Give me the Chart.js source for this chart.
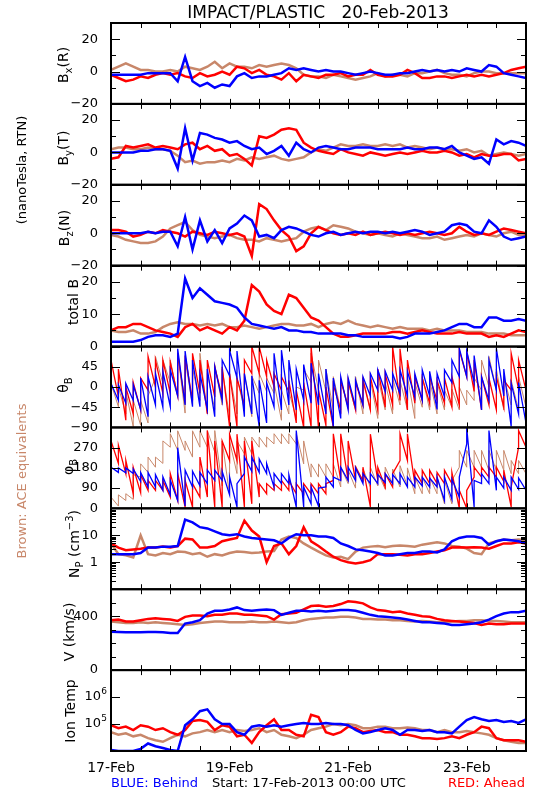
<!DOCTYPE html>
<html>
<head>
<meta charset="utf-8">
<title>IMPACT/PLASTIC 20-Feb-2013</title>
<script src="https://cdn.jsdelivr.net/npm/chart.js@4.4.1/dist/chart.umd.min.js"></script>
<style>
  body { margin: 0; background: #fff; font-family: "DejaVu Sans", sans-serif; }
  #wrap { position: relative; width: 550px; height: 800px; }
  #chart { position: absolute; left: 0; top: 0; }
  .t { position: absolute; white-space: pre; color: #000; font-size: 14px; line-height: 1; }
  .r { transform: translate(-50%, -50%) rotate(-90deg); }
  .r sub, .r sup { font-size: 10px; }
</style>
</head>
<body>
<div id="wrap">
  <canvas id="chart" width="550" height="800"></canvas>

  <div class="t" style="left:318px;top:12px;transform:translate(-50%,-50%);font-size:17px;">IMPACT/PLASTIC   20-Feb-2013</div>

  <div class="t r" style="left:65px;top:65px;">B<sub>x</sub>(R)</div>
  <div class="t r" style="left:65px;top:148px;">B<sub>y</sub>(T)</div>
  <div class="t r" style="left:66px;top:228px;">B<sub>z</sub>(N)</div>
  <div class="t r" style="left:73px;top:302px;">total B</div>
  <div class="t r" style="left:65px;top:385px;">θ<sub>B</sub></div>
  <div class="t r" style="left:70px;top:467px;">φ<sub>B</sub></div>
  <div class="t r" style="left:75px;top:544px;">N<sub>P</sub> (cm<sup>−3</sup>)</div>
  <div class="t r" style="left:69px;top:632px;">V (km/s)</div>
  <div class="t r" style="left:70px;top:711px;">Ion Temp</div>

  <div class="t r" style="left:21px;top:170px;font-size:13px;">(nanoTesla, RTN)</div>
  <div class="t r" style="left:21px;top:481px;font-size:13px;color:#c8876a;">Brown: ACE equivalents</div>

  <div class="t" style="left:111px;top:776px;font-size:13px;color:#0000ff;">BLUE: Behind</div>
  <div class="t" style="left:212px;top:776px;font-size:13px;">Start: 17-Feb-2013 00:00 UTC</div>
  <div class="t" style="right:25px;top:776px;font-size:13px;color:#ff0000;">RED: Ahead</div>
</div>

<script>
// sample times, hours after 17-Feb-2013 00:00 UTC
const HOURS = [0,3,6,9,12,15,18,21,24,27,30,33,36,39,42,45,48,51,54,57,60,63,66,69,72,75,78,81,84,87,
  90,93,96,99,102,105,108,111,114,117,120,123,126,129,132,135,138,141,144,147,150,153,156,159,162,165,168];

// x axis ticks (every 12 h) and day labels
const X_TICKS = [0,12,24,36,48,60,72,84,96,108,120,132,144,156,168];
const DAY_TICKS = [0,48,96,144];
const DAY_LABELS = ['17-Feb','19-Feb','21-Feb','23-Feb'];

// Bx (R), nT
const BX_BLUE = [-2,-2,-2,-2,-2,-1,-1,-1,-1,-6,9,-6,-9,-7,-10,-8,-9,-3,-1,-4,-3,-3,-2,
  -1,2,1,2,1,0,1,0,0,-1,-2,-1,0,-1,-2,-2,-1,-1,0,1,0,1,0,1,0,2,1,0,4,3,-1,-2,-3,-4];
const BX_RED = [-2,-4,-6,-5,-3,-4,-2,-1,-2,-1,-3,-4,-1,-3,-2,0,-2,3,2,-1,1,-2,-3,
  -5,-1,-6,-2,-3,-4,-2,-2,-1,-3,-2,-2,1,-2,-3,-3,-2,1,-1,-4,-4,-3,-3,-4,-3,-2,-3,-2,-3,-2,-1,1,2,3];
const BX_ACE = [1,3,5,3,1,1,0,0,1,0,3,2,1,3,6,2,5,3,3,2,4,3,4,
  5,4,2,-2,-3,-3,-4,-2,-3,-4,-5,-4,-3,-1,-3,-2,-2,-3,-1,-1,0,1,-1,-2,-2,-3,-1,0,0,-1,-1,-1,-1,-1];

// By (T), nT
const BY_BLUE = [0,0,0,0,1,1,2,2,1,-10,15,-5,12,11,9,8,6,7,4,2,3,-1,1,
  4,-2,6,2,0,3,4,3,2,2,3,3,3,2,2,2,2,3,2,2,3,3,2,4,0,-2,-4,-3,-7,8,5,7,6,4];
const BY_RED = [-4,-3,4,3,4,5,3,4,3,2,5,6,2,4,1,2,-2,-1,-4,-8,10,9,11,
  14,15,14,6,3,1,0,-1,2,0,-1,-2,0,-1,-2,-1,0,-1,0,1,0,0,1,0,-2,-1,-3,-1,-2,-2,-1,-1,-5,-4];
const BY_ACE = [2,3,3,2,2,3,2,2,1,-2,-6,-5,-7,-6,-6,-5,-6,-4,-5,-3,-4,-3,-2,
  -4,-5,-4,-3,0,2,1,3,5,4,4,5,4,4,5,4,5,3,4,3,2,3,2,2,1,2,0,1,-2,-1,0,-1,-2,-1];

// Bz (N), nT
const BZ_BLUE = [0,0,0,0,0,1,0,1,1,-8,10,-10,8,-5,2,-6,3,6,11,8,-2,-1,-3,
  2,4,3,1,-1,-2,0,1,-1,0,1,0,1,1,0,1,0,1,2,1,-1,0,1,5,6,5,1,0,8,4,-2,-4,-3,-2];
const BZ_RED = [2,2,1,-2,-1,1,0,2,1,0,-2,1,0,-1,1,0,-1,0,-2,-14,18,15,8,
  2,-2,-11,-8,0,4,2,0,-1,0,-1,1,-1,0,1,0,-1,0,-1,0,1,0,-1,0,4,1,-1,0,-1,1,3,2,1,0];
const BZ_ACE = [-1,-2,-4,-5,-6,-6,-5,-2,3,5,7,2,-1,-2,-3,-2,-1,-3,-4,-4,-5,-3,-4,
  -5,-4,-3,1,3,4,2,5,4,3,1,0,-1,0,-1,-2,0,-1,-2,-3,-3,-2,-4,-3,-2,-1,-2,0,-1,-2,0,1,-1,-1];

// total B, nT
const BT_BLUE = [1.5,1.5,1.5,1.5,2,3,3.5,3.5,3,4,21,15,18,16,14,13.5,13,12,9,7,6.5,6,5.5,
  6,5,5,4.5,4.5,4,4,4,4,3.5,3.5,3,3,3,3,3,2.5,3,4,4,4,4.5,5,6,7,7,6,6,9,9,8,8,8.5,8];
const BT_RED = [5,6,6,7,7,6,5,4.5,4,3,6,7,5,6,5,4,6,5,8,19,17,13,11,
  10,16,15,12,9,8,6,4,3,3,3.5,4,4,4,4,4.5,4.5,4,4.5,5,4.5,4,4,4,4.5,4,4,4,3,3.5,3,4,5,4.5];
const BT_ACE = [5,4.5,4.5,5,4,4,4.5,6,7,7.5,7,7,6.5,7,6.5,7,6,6,6.5,6,5.5,6,6.5,
  7,7,6.5,6.5,7,6,7,7.5,7,8,7,6.5,6,6.5,6,5.5,6,5.5,5.5,5.5,5,5.5,5,5,5,4.5,4.5,4.5,4,4,4,3.5,3.5,3.5];

// theta_B, degrees: upper and lower edge of the scatter in each 3 h bin
const TH_BLUE_HI = [8,5,8,5,20,23,30,35,38,85,80,60,30,40,45,60,82,80,30,25,15,10,75,82,60,40,50,53,30,40,
  20,23,20,15,23,30,38,35,30,38,35,30,38,35,30,38,60,86,80,70,23,60,86,40,8,10,5];
const TH_BLUE_LO = [-20,-30,-36,-30,-50,-66,-40,-45,-44,-20,-40,-44,-44,-50,-66,-30,25,20,-66,-60,-88,-80,-44,-51,-40,-51,-30,-36,-40,-60,
  -88,-70,-51,-45,-40,-20,-7,-10,-7,-15,-20,-22,-30,-20,-50,-22,10,23,23,10,-51,-30,-7,-20,-88,-60,-80];
const TH_RED_HI = [60,40,0,10,20,68,60,60,55,75,70,75,60,60,45,45,30,20,60,90,90,60,30,23,15,-7,10,90,-7,0,
  5,15,15,10,15,23,40,30,90,85,60,23,20,23,15,20,23,82,80,60,23,20,23,15,75,60,40];
const TH_RED_LO = [-10,-22,-74,-60,-51,-7,0,-14,-14,-20,-37,-30,-14,-60,-22,-22,-88,-88,-40,30,30,23,0,-7,-10,-80,-90,-88,-90,-85,
  -90,-51,-45,-51,-40,-51,-51,-45,-40,-30,-51,-36,-30,-36,-30,-36,-44,-40,23,-10,-51,-40,-51,-45,-7,-5,-7];
const TH_ACE_HI = [8,0,-10,-29,-30,-20,68,60,60,75,60,40,75,30,50,40,30,20,30,25,30,20,10,-7,-10,0,40,75,60,40,
  23,15,10,23,20,15,23,10,20,15,23,10,23,15,10,-7,-5,0,-7,20,60,68,40,23,15,23,10];
const TH_ACE_LO = [-30,-44,-60,-88,-85,-80,20,8,10,-20,-58,-40,-30,-58,-50,-40,-66,-60,-50,-66,-14,-10,-14,-74,-60,-70,-7,10,-7,-10,
  -51,-51,-40,-51,-60,-51,-70,-51,-60,-40,-51,-70,-45,-51,-60,-51,-45,-51,-40,-30,-7,0,-7,-51,-40,-51,-45];

// phi_B, degrees: upper and lower edge of the scatter in each 3 h bin
const PH_BLUE_HI = [183,180,180,175,160,160,150,140,125,270,170,165,160,170,170,165,140,110,228,228,220,200,155,154,150,346,95,95,90,139,
  139,183,183,180,154,154,150,154,150,154,139,139,139,135,139,139,130,139,360,124,154,346,139,139,139,135,139];
const PH_BLUE_LO = [160,160,158,155,120,95,95,80,60,35,10,95,100,110,125,125,60,6,155,165,160,155,95,110,110,6,6,20,10,95,
  95,124,124,124,110,110,110,115,110,110,95,95,100,95,95,35,40,50,287,6,110,110,80,90,80,85,80];
const PH_RED_HI = [300,280,213,183,150,124,124,124,155,155,125,110,228,346,300,300,330,330,300,300,110,110,110,124,124,110,110,110,110,110,
  332,332,300,183,183,330,183,154,154,332,332,169,169,169,160,169,160,80,80,183,183,183,183,170,95,346,346];
const PH_RED_LO = [243,200,154,65,70,80,80,80,50,35,6,6,50,50,6,6,213,213,6,20,50,65,80,80,80,65,65,65,65,65,
  124,124,124,124,124,6,124,95,95,213,213,110,110,110,110,110,110,0,0,139,139,139,139,120,6,272,272];
const PH_ACE_HI = [50,60,65,150,198,228,228,300,332,345,300,345,345,346,346,300,300,300,317,317,317,317,332,332,332,332,300,198,198,198,
  198,183,170,190,175,183,160,183,175,190,180,139,139,139,139,124,124,258,258,258,258,258,258,258,213,213,213];
const PH_ACE_LO = [0,10,35,40,139,160,183,200,272,258,258,228,272,272,250,100,60,155,243,243,272,272,287,287,287,287,198,139,139,139,
  139,95,110,90,120,95,100,85,110,95,100,65,65,65,65,20,20,183,183,183,183,169,169,169,154,154,154];

// proton density, cm^-3
const NP_BLUE = [2,2,2,2,2.2,3.5,3.5,3.8,3.8,4,38,30,20,18,14,11,10,11,9,8,7.5,7,6.5,
  5,8,11,10,10,9,9,8,5,4,3,2.8,2.5,2.2,1.8,1.8,2,2.2,2.2,2.5,2.5,2.3,3,6,8,9,9,8,4.5,6,7,6.5,6,5];
const NP_RED = [5,3.5,2.8,3,3.2,3.5,3.5,3.8,3.5,4,7.5,7,3.5,3.5,4,6,7,8,35,15,9,1,4,
  5,2,4,20,6,4,2.5,1.6,1.2,1,0.9,1,1.2,2,2,2,1.9,1.8,2,2,2.2,2.5,2.8,3.5,3.6,3.5,3.6,3.5,3.2,4,5,5,5.5,5];
const NP_ACE = [5,2,1.8,1.5,10,2,1.8,2.2,2,2.5,2.4,2,2.2,1.6,2,1.8,2.2,2.5,2.4,2.2,2.3,2.5,2.6,
  7,9,8,5,3.5,2.5,1.8,1.5,1.6,1.3,2.5,3.5,3.8,4,3.6,4,4.2,4,3.8,4.5,5,5.5,5,4,3.8,3.2,2.2,2,5,6,7,6.5,7,6.5];

// bulk speed, km/s
const V_BLUE = [285,282,280,280,280,282,282,280,275,275,345,355,370,420,440,440,450,465,445,440,445,450,445,
  410,425,440,440,435,440,435,440,445,445,440,425,410,400,395,390,385,375,365,355,355,350,345,335,335,340,345,355,375,400,420,430,430,440];
const V_RED = [370,375,360,360,370,380,385,380,375,365,395,405,405,400,410,410,420,420,410,410,405,400,375,
  415,420,425,450,475,480,470,475,490,510,505,495,465,445,440,430,435,420,410,400,395,380,370,365,360,355,350,335,345,340,340,345,345,345];
const V_ACE = [360,355,350,350,355,350,355,350,345,340,335,340,350,355,360,360,355,355,355,360,355,355,360,
  355,350,355,370,380,385,390,390,395,395,390,380,380,375,375,370,370,365,360,365,360,355,355,360,365,365,370,370,365,365,360,355,355,355];

// ion temperature, K
const T_BLUE = [1.1e4,1.0e4,1.0e4,1.0e4,1.2e4,1.9e4,1.5e4,1.3e4,1.1e4,1.0e4,9e4,1.5e5,3e5,3.5e5,1.5e5,1e5,1e5,5e4,4e4,8e4,9e4,8e4,9e4,
  8e4,9e4,1e5,1.1e5,1e5,1e5,1.1e5,1e5,1e5,9e4,6e4,4.5e4,5e4,6e4,7e4,6e4,4e4,6e4,6e4,5.5e4,6e4,5e4,5e4,4.5e4,8e4,1.4e5,1.8e5,1.5e5,1.3e5,1.4e5,1.2e5,1.3e5,1.1e5,1.5e5];
const T_RED = [9e4,7e4,8e4,6e4,9e4,8e4,6e4,7e4,5e4,4e4,6e4,1.3e5,1.4e5,1.2e5,6e4,9e4,8e4,3.5e4,4e4,2e4,5e4,9e4,1.5e5,
  6e4,6e4,4e4,3.5e4,2.2e5,1.8e5,5e4,4e4,5e4,8e4,7e4,5e4,5.5e4,6e4,5e4,5e4,4e4,4e4,3.5e4,3e4,3e4,2.8e4,3e4,3.5e4,3e4,4e4,5e4,8e4,7e4,3e4,2.5e4,2.5e4,2.5e4,2.2e4];
const T_ACE = [5e4,4e4,4.5e4,3.5e4,4e4,3e4,2.5e4,2.2e4,3e4,4e4,3.5e4,4.5e4,5e4,6e4,5e4,6e4,5e4,6e4,5.5e4,6e4,7e4,5e4,6e4,
  4e4,3.5e4,3e4,4e4,6e4,7e4,8e4,1e5,9e4,1e5,9e4,7e4,7e4,8e4,8e4,7e4,7e4,7.5e4,7e4,6e4,6e4,5e4,6e4,5e4,5e4,5.5e4,5e4,4.5e4,4e4,3e4,2.5e4,2.2e4,2e4,2e4];

// y tick values and labelled ticks for each panel
const B_TICKS = [-20,-10,0,10,20,30];
const B_LABELS = [-20,0,20];
const BT_TICKS = [0,5,10,15,20,25];
const BT_LABELS = [0,10,20];
const TH_TICKS = [-90,-45,0,45,90];
const TH_LABELS = [-90,-45,0,45];
const PH_TICKS = [0,90,180,270,360];
const PH_LABELS = [0,90,180,270];
const NP_TICKS = [0.1,0.2,0.3,0.4,0.5,0.6,0.7,0.8,0.9,1,2,3,4,5,6,7,8,9,10,20,30,40,50,60,70,80,90,100];
const NP_LABELS = [1,10];
const V_TICKS = [0,100,200,300,400,500,600];
const V_LABELS = [0,400];
const T_TICKS = [1e5,1e6];
const T_LABELS = [1e5,1e6];
const T_EXP = ['5','6'];

const BLUE = '#0000ff';
const RED = '#ff0000';
const BROWN = '#c8876a';

const num = v => String(v).replace('-', '−');

const PANELS = [
  { id: 'bx', min: -20, max: 30, ticks: B_TICKS, labels: B_LABELS, lw: [2.5, 2.5, 2.5], series: [BX_BLUE, BX_RED, BX_ACE] },
  { id: 'by', min: -20, max: 30, ticks: B_TICKS, labels: B_LABELS, lw: [2.5, 2.5, 2.5], series: [BY_BLUE, BY_RED, BY_ACE] },
  { id: 'bz', min: -20, max: 30, ticks: B_TICKS, labels: B_LABELS, lw: [2.5, 2.5, 2.5], series: [BZ_BLUE, BZ_RED, BZ_ACE] },
  { id: 'bt', min: 0, max: 25, ticks: BT_TICKS, labels: BT_LABELS, lw: [2.5, 2.5, 2.5], series: [BT_BLUE, BT_RED, BT_ACE] },
  { id: 'th', min: -90, max: 90, ticks: TH_TICKS, labels: TH_LABELS, lw: [1.3, 1.3, 1], band: true,
    series: [[TH_BLUE_HI, TH_BLUE_LO], [TH_RED_HI, TH_RED_LO], [TH_ACE_HI, TH_ACE_LO]] },
  { id: 'ph', min: 0, max: 360, ticks: PH_TICKS, labels: PH_LABELS, lw: [1.3, 1.3, 1], band: true,
    series: [[PH_BLUE_HI, PH_BLUE_LO], [PH_RED_HI, PH_RED_LO], [PH_ACE_HI, PH_ACE_LO]] },
  { id: 'np', type: 'logarithmic', min: 0.1, max: 100, ticks: NP_TICKS, labels: NP_LABELS, lw: [2.5, 2.5, 2.5], series: [NP_BLUE, NP_RED, NP_ACE] },
  { id: 'v', min: 0, max: 600, ticks: V_TICKS, labels: V_LABELS, lw: [2.5, 2.5, 2.5], series: [V_BLUE, V_RED, V_ACE] },
  { id: 'ti', type: 'logarithmic', min: 1e4, max: 1e7, ticks: T_TICKS, labels: T_LABELS, power: true, lw: [2.5, 2.5, 2.5], series: [T_BLUE, T_RED, T_ACE] }
];

Chart.defaults.font.family = '"DejaVu Sans", sans-serif';

// datasets: blue first so it is drawn on top, ACE (brown) underneath
const datasets = [];
PANELS.forEach(p => {
  const cols = [BLUE, RED, BROWN];
  p.series.forEach((s, k) => {
    let pts;
    if (p.band) {
      // vertical stroke from the lower to the upper edge of each bin
      const [hi, lo] = s;
      pts = [];
      HOURS.forEach((h, i) => {
        pts.push({ x: h, y: lo[i] });
        pts.push({ x: h, y: hi[i] });
      });
    } else {
      pts = s.map((v, i) => ({ x: HOURS[i], y: v }));
    }
    datasets.push({
      data: pts,
      yAxisID: p.id,
      borderColor: cols[k],
      borderWidth: p.lw[k],
      pointRadius: 0,
      tension: 0,
      clip: 0
    });
  });
});

const scales = {
  x: {
    type: 'linear', min: 0, max: 168, position: 'bottom',
    afterBuildTicks: s => { s.ticks = X_TICKS.map(v => ({ value: v })); },
    afterFit: s => { s.height = 22; s.paddingLeft = 0; s.paddingRight = 0; },
    grid: { display: false },
    border: { display: false },
    ticks: {
      autoSkip: false, maxRotation: 0, padding: 1, color: '#000', font: { size: 14 },
      callback: v => { const k = DAY_TICKS.indexOf(v); return k < 0 ? '' : DAY_LABELS[k]; }
    }
  }
};

PANELS.forEach((p, k) => {
  scales[p.id] = {
    type: p.type || 'linear', min: p.min, max: p.max,
    position: 'left', stack: 'panels', stackWeight: 1, weight: PANELS.length - k,
    afterBuildTicks: s => { s.ticks = p.ticks.map(v => ({ value: v })); },
    afterFit: s => { s.width = 111; s.paddingTop = 0; s.paddingBottom = 0; },
    grid: { display: false },
    border: { display: false },
    ticks: {
      autoSkip: false, padding: 5, color: '#000', font: { size: 13 },
      // powers of ten are written by the frame plugin with a raised exponent
      callback: v => (p.power || !p.labels.includes(v)) ? '' : num(v)
    }
  };
});

// panel boxes with inward tick marks, IDL style
const frame = {
  id: 'frame',
  afterDraw(chart) {
    const ctx = chart.ctx;
    const xs = chart.scales.x;
    const left = chart.chartArea.left, right = chart.chartArea.right;
    ctx.save();
    ctx.strokeStyle = '#000';
    ctx.fillStyle = '#000';
    PANELS.forEach(p => {
      const s = chart.scales[p.id];
      ctx.lineWidth = 1;
      ctx.beginPath();
      s.ticks.forEach(t => {
        const y = Math.round(s.getPixelForValue(t.value)) + 0.5;
        const len = p.labels.includes(t.value) ? 9 : 5;
        ctx.moveTo(left, y); ctx.lineTo(left + len, y);
        ctx.moveTo(right, y); ctx.lineTo(right - len, y);
      });
      xs.ticks.forEach(t => {
        const x = Math.round(xs.getPixelForValue(t.value)) + 0.5;
        ctx.moveTo(x, s.top); ctx.lineTo(x, s.top + 5);
        ctx.moveTo(x, s.bottom); ctx.lineTo(x, s.bottom - 5);
      });
      ctx.stroke();
      ctx.lineWidth = 2;
      ctx.strokeRect(left, s.top, right - left, s.bottom - s.top);
      if (p.power) {
        ctx.textBaseline = 'middle';
        p.labels.forEach((v, j) => {
          const y = s.getPixelForValue(v);
          ctx.textAlign = 'right';
          ctx.font = '9px "DejaVu Sans", sans-serif';
          ctx.fillText(T_EXP[j], left - 4, y - 5);
          ctx.font = '13px "DejaVu Sans", sans-serif';
          ctx.fillText('10', left - 10, y);
        });
      }
    });
    ctx.restore();
  }
};

new Chart(document.getElementById('chart'), {
  type: 'line',
  data: { datasets },
  options: {
    responsive: false,
    animation: false,
    devicePixelRatio: 1,
    layout: { padding: { top: 23, right: 24, bottom: 27, left: 0 } },
    plugins: { legend: { display: false }, tooltip: { enabled: false } },
    scales
  },
  plugins: [frame]
});
</script>
</body>
</html>
